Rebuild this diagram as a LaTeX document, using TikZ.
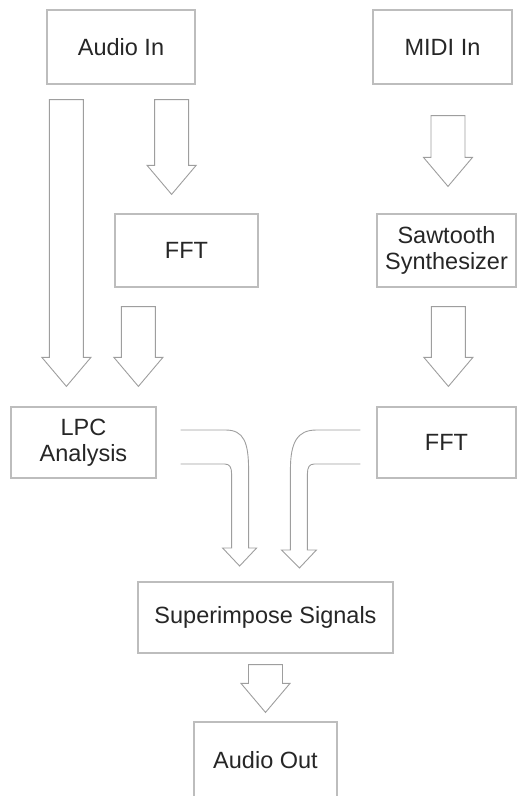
\documentclass[tikz,border=0pt]{standalone}
\usepackage{fontspec}
\setmainfont{Liberation Sans}
\usetikzlibrary{calc}

\definecolor{boxgray}{HTML}{BDBDBD}
\definecolor{arrowgray}{HTML}{9E9E9E}
\definecolor{textgray}{HTML}{262626}

\begin{document}
\begin{tikzpicture}[
        x=1pt,  % 1 px = 1pt
        y=-1pt, % y runs downwards, as in the screenshot
        block/.style={draw=boxgray, line width=1.2pt, fill=white, text=textgray,
            align=center, inner sep=0pt, font=\fontsize{23.5}{26.5}\selectfont},
        blockarrow/.style={draw=arrowgray, line width=0.9pt, fill=white,
            to path={let \p1=(\tikztostart), \p2=(\tikztotarget) in
                (\x1-17,\y1) -- (\x1+17,\y1) -- (\x1+17,\y2+29) -- (\x1+24.5,\y2+29)
                -- (\x1,\y2) -- (\x1-24.5,\y2+29) -- (\x1-17,\y2+29) -- cycle}},
        bentarrow/.style={draw=arrowgray, line width=0.9pt, fill=white},
    ]

    \useasboundingbox (0,0) rectangle (517,796);

    % Inputs
    \node[block, minimum width=148, minimum height=74] (audioin) at (121, 47) {Audio In};
    \node[block, minimum width=139, minimum height=74] (midiin) at (442.5, 47) {MIDI In};

    % Second row
    \node[block, minimum width=143, minimum height=73] (fftleft) at (186.5, 250.5) {FFT};
    \node[block, minimum width=139, minimum height=73] (saw) at (446.5, 250.5) {Sawtooth\\Synthesizer};

    % Third row
    \node[block, minimum width=145, minimum height=71] (lpc) at (83.5, 442.5) {LPC\\Analysis};
    \node[block, minimum width=139, minimum height=71] (fftright) at (446.5, 442.5) {FFT};

    % Output
    \node[block, minimum width=255, minimum height=71] (super) at (265.5, 617.5) {Superimpose Signals};
    \node[block, minimum width=143, minimum height=76] (audioout) at (265.5, 760) {Audio Out};

    % Start points of the straight arrows
    \coordinate (in2lpc) at ([xshift=20pt, yshift=-15pt]audioin.south west);
    \coordinate (in2fft) at ([xshift=-24pt, yshift=-15pt]audioin.south east);
    \coordinate (midi2saw) at ([xshift=5.5pt, yshift=-31pt]midiin.south);
    \coordinate (fft2lpc) at ([xshift=24pt, yshift=-19pt]fftleft.south west);
    \coordinate (saw2fft) at ([xshift=72pt, yshift=-19pt]saw.south west);
    \coordinate (super2out) at ([yshift=-11pt]super.south);

    % Straight block arrows
    \draw[blockarrow] (in2lpc) to ([yshift=20pt]lpc.north);
    \draw[blockarrow] (in2fft) to ([yshift=19pt]fftleft.north);
    \draw[blockarrow] (midi2saw) to ([yshift=27pt]saw.north);
    \draw[blockarrow] (fft2lpc) to ([yshift=20pt]lpc.north);
    \draw[blockarrow] (saw2fft) to ([yshift=20pt]fftright.north);
    \draw[blockarrow] (super2out) to ([yshift=9pt]audioout.north);

    % Bent arrows into the superimpose block
    \coordinate (lpcout) at ([xshift=24pt, yshift=12.5pt]lpc.east);
    \coordinate (fftout) at ([xshift=-16pt, yshift=12.5pt]fftright.west);

    \draw[bentarrow] (lpcout) -- ++(45,0)
        .. controls +(18,0) and +(0,-28) .. ++(23,40)
        -- ++(0,78) -- ++(8,0) -- ++(-17,18) -- ++(-17,-18) -- ++(9,0)
        -- ++(0,-74) .. controls +(0,-7) and +(5,0) .. ++(-7,-10)
        -- ++(-44,0);

    \draw[bentarrow] (fftout) -- ++(-44,0)
        .. controls +(-19,0) and +(0,-28) .. ++(-26,40)
        -- ++(0,80) -- ++(-9,0) -- ++(18,18) -- ++(17,-18) -- ++(-9,0)
        -- ++(0,-76) .. controls +(0,-7) and +(-5,0) .. ++(7,-10)
        -- ++(46,0);

\end{tikzpicture}
\end{document}
